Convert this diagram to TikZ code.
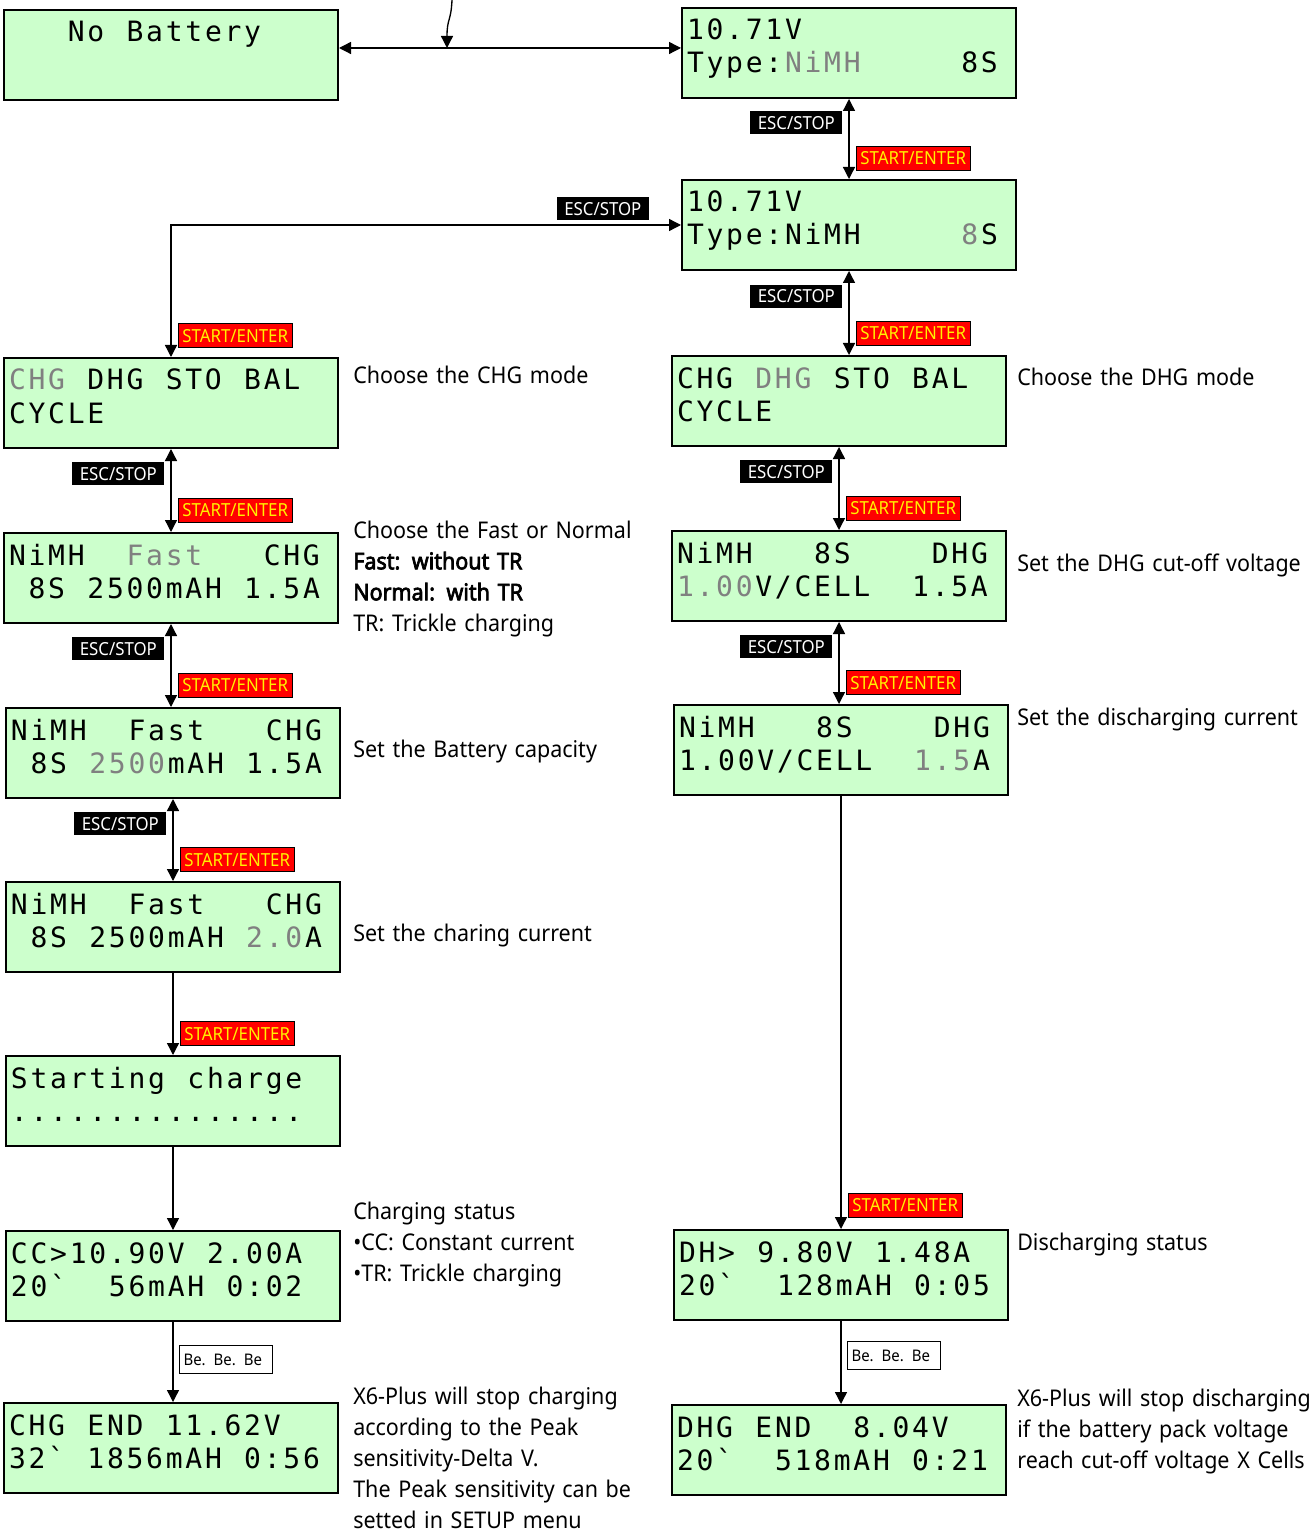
\documentclass[tikz,border=0pt]{standalone}
\usepackage{fontspec}
\usepackage{xcolor}
\usepackage{tikz}
\usetikzlibrary{arrows.meta}
\newfontfamily\lcdfont{DejaVu Sans Mono}[LetterSpace=9.8,Ligatures=TeXOff]
\newfontfamily\descfont{Noto Sans}[FakeStretch=0.935,BoldFont={Noto Sans},BoldFeatures={FakeBold=3}]
\newcommand\keyfont{\descfont\fontsize{13.5pt}{15pt}\selectfont}
\newcommand\beepfont{\descfont\fontsize{12pt}{14pt}\selectfont}
\definecolor{lcdgreen}{RGB}{204,255,204}
\definecolor{lcdgrey}{RGB}{128,128,128}
\newcommand\cur[1]{\hspace*{0.098em}\textcolor{lcdgrey}{#1}\hspace*{0.098em}}
\newcommand\curs[1]{\textcolor{lcdgrey}{#1}\hspace*{0.098em}}

\begin{document}
\begin{tikzpicture}[x=0.75pt,y=0.75pt,yscale=-1,xscale=1,
  lcd/.style={draw, line width=1.5pt, fill=lcdgreen, anchor=north west, inner xsep=3.75pt, inner ysep=0pt, text width=243pt, align=left, text height=24pt, text depth=43.5pt, font={\lcdfont\fontsize{21pt}{24.75pt}\selectfont\def~{\char"A0\relax}}},
  desc/.style={anchor=north west, inner sep=0pt, text width=260pt, align=left, text height=0pt, font={\descfont\fontsize{17.25pt}{23.25pt}\selectfont}},
  escstop/.style={fill=black, text=white, font=\keyfont, minimum width=69pt, minimum height=17.25pt, inner sep=0pt, anchor=east, xshift=-4.5pt},
  startent/.style={fill=red, draw=black, line width=0.8pt, text=yellow, font=\keyfont, minimum width=85.5pt, minimum height=18pt, inner sep=0pt, anchor=west, xshift=5pt},
  beep/.style={fill=white, draw=black, line width=0.8pt, font=\beepfont, text width=64pt, align=left, inner xsep=3pt, minimum height=21pt, anchor=west, xshift=4.5pt},
  link/.style={line width=1pt},
  dbl/.style={link, {Triangle[length=9pt,width=9pt]}-{Triangle[length=9pt,width=9pt]}},
  arr/.style={link, -{Triangle[length=9pt,width=9pt]}}]

\useasboundingbox (0,0) rectangle (1311,1533);

\node[lcd] (nobat) at (3,9) {~~~No~Battery\\~};

\node[lcd] (volt) at (681,7) {10.71V\\Type:\cur{NiMH}~~~~~8S};

\node[lcd] (type) at (681,179) {10.71V\\Type:NiMH~~~~~\cur{8}S};

\node[lcd] (chgmode) at (3,357) {\curs{CHG}~DHG~STO~BAL\\CYCLE};

\node[lcd] (dhgmode) at (671,355) {CHG~\cur{DHG}~STO~BAL\\CYCLE};

\node[lcd] (chgfast) at (3,532) {NiMH~~\cur{Fast}~~~CHG\\~8S~2500mAH~1.5A};

\node[lcd] (chgcap) at (5,707) {NiMH~~Fast~~~CHG\\~8S~\cur{2500}mAH~1.5A};

\node[lcd] (chgcur) at (5,881) {NiMH~~Fast~~~CHG\\~8S~2500mAH~\cur{2.0}A};

\node[lcd] (chgstart) at (5,1055) {Starting~charge\\...............};

\node[lcd] (chgstat) at (5,1230) {CC>10.90V~2.00A\\20`~~56mAH~0:02};

\node[lcd] (chgend) at (3,1402) {CHG~END~11.62V\\32`~1856mAH~0:56};

\node[lcd] (dhgcut) at (671,530) {NiMH~~~8S~~~~DHG\\\curs{1.00}V/CELL~~1.5A};

\node[lcd] (dhgcur) at (673,704) {NiMH~~~8S~~~~DHG\\1.00V/CELL~~\cur{1.5}A};

\node[lcd] (dhgstat) at (673,1229) {DH>~9.80V~1.48A\\20`~~128mAH~0:05};

\node[lcd] (dhgend) at (671,1404) {DHG~END~~8.04V\\20`~~518mAH~0:21};

\coordinate (feed) at (452,0);
\coordinate (join) at (447,48);

\draw[dbl] (nobat.east |- join) -- (volt.west |- join);
\draw[arr] (feed) .. controls (451,22) and (447,18) .. (join);

\draw[dbl] (volt.south) -- (volt.south |- type.north) node[escstop, pos=0.3] {ESC/STOP} node[startent, pos=0.74] {START/ENTER};

\draw[dbl] (chgmode.north) |- (type.west) node[startent, pos=0.08] {START/ENTER} node[escstop, pos=0.975, anchor=south east, xshift=0pt, yshift=3pt] {ESC/STOP};

\draw[dbl] (type.south) -- (type.south |- dhgmode.north) node[escstop, pos=0.3] {ESC/STOP} node[startent, pos=0.74] {START/ENTER};

\draw[dbl] (chgmode.south) -- (chgmode.south |- chgfast.north) node[escstop, pos=0.3] {ESC/STOP} node[startent, pos=0.74] {START/ENTER};

\draw[dbl] (chgfast.south) -- (chgfast.south |- chgcap.north) node[escstop, pos=0.3] {ESC/STOP} node[startent, pos=0.74] {START/ENTER};

\draw[dbl] (chgcap.south) -- (chgcap.south |- chgcur.north) node[escstop, pos=0.3] {ESC/STOP} node[startent, pos=0.74] {START/ENTER};

\draw[arr] (chgcur.south) -- (chgcur.south |- chgstart.north) node[startent, pos=0.74] {START/ENTER};

\draw[arr] (chgstart.south) -- (chgstart.south |- chgstat.north);

\draw[arr] (chgstat.south) -- (chgstat.south |- chgend.north) node[beep, pos=0.47] {Be. Be. Be};

\draw[dbl] (dhgmode.south) -- (dhgmode.south |- dhgcut.north) node[escstop, pos=0.3] {ESC/STOP} node[startent, pos=0.74] {START/ENTER};

\draw[dbl] (dhgcut.south) -- (dhgcut.south |- dhgcur.north) node[escstop, pos=0.3] {ESC/STOP} node[startent, pos=0.74] {START/ENTER};

\draw[arr] (dhgcur.south) -- (dhgcur.south |- dhgstat.north) node[startent, pos=0.945] {START/ENTER};

\draw[arr] (dhgstat.south) -- (dhgstat.south |- dhgend.north) node[beep, pos=0.42] {Be. Be. Be};

\node[desc] (dchgmode) at (353,383) {Choose the CHG mode};

\node[desc] (dchgfast) at (353,538) {Choose the Fast or Normal\\\textbf{Fast: without TR}\\\textbf{Normal: with TR}\\TR: Trickle charging};

\node[desc] (dchgcap) at (353,757) {Set the Battery capacity};

\node[desc] (dchgcur) at (353,941) {Set the charing current};

\node[desc] (dchgstat) at (353,1219) {Charging status\\•CC: Constant current\\•TR: Trickle charging};

\node[desc] (dchgend) at (353,1404) {X6-Plus will stop charging\\according to the Peak\\sensitivity-Delta V.\\The Peak sensitivity can be\\setted in SETUP menu};

\node[desc] (ddhgmode) at (1017,385) {Choose the DHG mode};

\node[desc] (ddhgcut) at (1017,571) {Set the DHG cut-off voltage};

\node[desc] (ddhgcur) at (1017,725) {Set the discharging current};

\node[desc] (ddhgstat) at (1017,1250) {Discharging status};

\node[desc] (ddhgend) at (1017,1406) {X6-Plus will stop discharging\\if the battery pack voltage\\reach cut-off voltage X Cells};

\end{tikzpicture}
\end{document}
